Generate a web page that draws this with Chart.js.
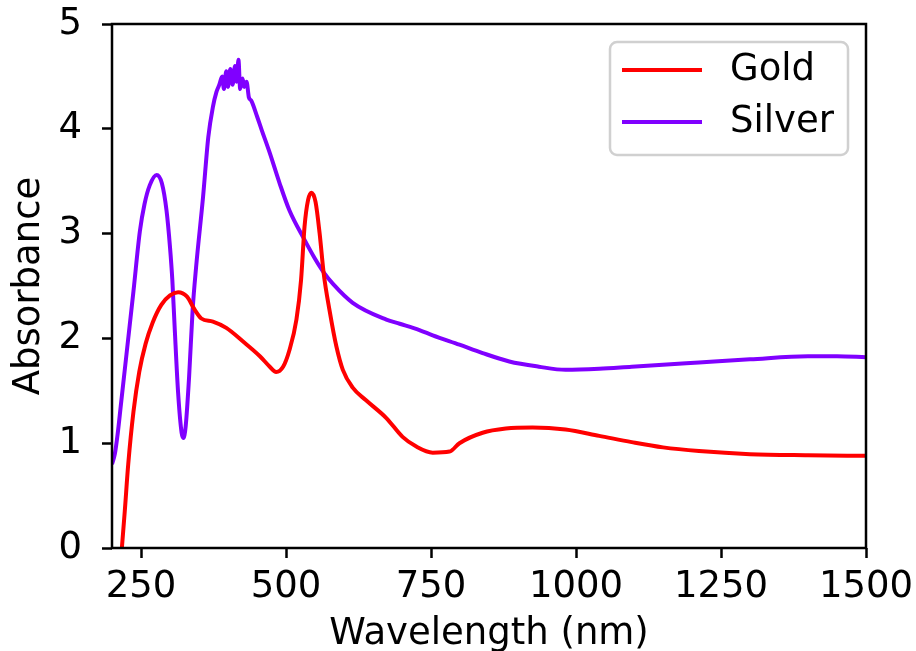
<!DOCTYPE html>
<html>
<head>
<meta charset="utf-8">
<script src="https://cdn.jsdelivr.net/npm/chart.js@4.4.1/dist/chart.umd.min.js"></script>
<style>
  body { margin: 0; background: #fff; }
  #wrap { width: 916px; height: 651px; }
</style>
</head>
<body>
<div id="wrap"><canvas id="grafico"></canvas></div>
<script>
// valores
const goldNm = [205, 217, 222, 228, 237, 247, 258, 270, 285, 300, 314, 329, 343, 354, 374, 397, 426, 455, 472, 483, 495, 506, 518, 526, 532, 538, 544, 551, 558, 565, 575, 587, 598, 615, 638, 673, 701, 724, 753, 782, 799, 839, 879, 925, 982, 1040, 1096, 1150, 1212, 1300, 1400, 1500];
const goldAbs = [-0.85, 0, 0.35, 0.80, 1.30, 1.68, 1.95, 2.15, 2.32, 2.41, 2.44, 2.40, 2.27, 2.19, 2.16, 2.10, 1.97, 1.83, 1.73, 1.68, 1.73, 1.89, 2.18, 2.56, 3.07, 3.32, 3.39, 3.30, 3.00, 2.62, 2.27, 1.92, 1.70, 1.53, 1.41, 1.24, 1.06, 0.97, 0.91, 0.92, 1.00, 1.10, 1.14, 1.15, 1.13, 1.07, 1.01, 0.96, 0.925, 0.895, 0.885, 0.88];

const silverNm = [200, 205, 210, 215, 225, 237, 248, 256, 265, 277, 286, 294, 300, 304, 308, 314, 320, 323, 327, 333, 339, 345, 357, 366, 374, 380, 385, 390, 393, 397, 400, 404, 408, 412, 415, 418, 421, 425, 428, 432, 436, 440, 450, 458, 472, 489, 506, 532, 550, 565, 581, 615, 673, 696, 730, 753, 799, 839, 885, 936, 982, 1040, 1096, 1212, 1300, 1400, 1450, 1500];
const silverAbs = [0.80, 0.90, 1.10, 1.35, 1.85, 2.45, 3.02, 3.28, 3.46, 3.56, 3.48, 3.22, 2.87, 2.56, 2.11, 1.48, 1.10, 1.05, 1.16, 1.64, 2.27, 2.68, 3.35, 3.92, 4.21, 4.35, 4.42, 4.50, 4.38, 4.55, 4.40, 4.57, 4.42, 4.60, 4.45, 4.66, 4.38, 4.48, 4.40, 4.45, 4.30, 4.27, 4.12, 3.99, 3.77, 3.48, 3.22, 2.94, 2.76, 2.63, 2.52, 2.34, 2.18, 2.14, 2.08, 2.03, 1.94, 1.86, 1.78, 1.73, 1.70, 1.71, 1.73, 1.77, 1.80, 1.83, 1.83, 1.82];

const xTicks = [250, 500, 750, 1000, 1250, 1500];
const yTicks = [0, 1, 2, 3, 4, 5];

const fonte = "'DejaVu Sans', sans-serif";
const tamanho = 37;

function pontos(xs, ys) {
  return xs.map((x, i) => ({ x: x, y: ys[i] }));
}

function semPadding(s) {
  s.paddingTop = 0;
  s.paddingBottom = 0;
  s.paddingLeft = 0;
  s.paddingRight = 0;
}

// moldura e legenda dentro da área do gráfico
const molduraLegenda = {
  id: "molduraLegenda",
  afterDraw(chart) {
    const { ctx, chartArea: a } = chart;
    ctx.save();
    ctx.strokeStyle = "#000";
    ctx.lineWidth = 2.5;
    ctx.strokeRect(a.left, a.top, a.right - a.left, a.bottom - a.top);

    const w = 238, h = 113;
    const bx = a.right - 18 - w, by = a.top + 18;
    ctx.beginPath();
    ctx.roundRect(bx, by, w, h, 7);
    ctx.fillStyle = "rgba(255,255,255,0.8)";
    ctx.fill();
    ctx.strokeStyle = "#d0d0d0";
    ctx.lineWidth = 2.5;
    ctx.stroke();

    chart.data.datasets.forEach((ds, i) => {
      const y = by + 28 + i * 52;
      ctx.beginPath();
      ctx.moveTo(bx + 12, y);
      ctx.lineTo(bx + 92, y);
      ctx.strokeStyle = ds.borderColor;
      ctx.lineWidth = 4;
      ctx.stroke();
      ctx.fillStyle = "#000";
      ctx.font = tamanho + "px " + fonte;
      ctx.textBaseline = "middle";
      ctx.textAlign = "left";
      ctx.fillText(ds.label, bx + 120, y);
    });
    ctx.restore();
  }
};

new Chart(document.getElementById("grafico"), {
  type: "line",
  data: {
    datasets: [
      { label: "Gold", data: pontos(goldNm, goldAbs), borderColor: "#ff0000", borderWidth: 4, pointRadius: 0, cubicInterpolationMode: "monotone", clip: 1 },
      { label: "Silver", data: pontos(silverNm, silverAbs), borderColor: "#8000ff", borderWidth: 4, pointRadius: 0, cubicInterpolationMode: "monotone", clip: 1 }
    ]
  },
  options: {
    responsive: true,
    maintainAspectRatio: false,
    animation: false,
    layout: { padding: { top: 24, right: 50, left: 0, bottom: 0 } },
    plugins: { legend: { display: false }, tooltip: { enabled: false } },
    scales: {
      x: {
        type: "linear",
        min: 200,
        max: 1500,
        afterBuildTicks: s => { s.ticks = xTicks.map(v => ({ value: v })); },
        afterFit: s => { s.height = 103; semPadding(s); },
        ticks: { color: "#000", font: { family: fonte, size: tamanho }, padding: 7, maxRotation: 0, callback: v => String(v) },
        grid: { drawOnChartArea: false, drawTicks: true, tickLength: 10, tickWidth: 2.5, tickColor: "#000" },
        border: { display: false },
        title: { display: true, text: "Wavelength (nm)", color: "#000", font: { family: fonte, size: tamanho, lineHeight: 0.9 }, padding: 0 }
      },
      y: {
        min: 0,
        max: 5,
        afterBuildTicks: s => { s.ticks = yTicks.map(v => ({ value: v })); },
        afterFit: s => { s.width = 112; semPadding(s); },
        ticks: { color: "#000", font: { family: fonte, size: tamanho }, padding: 20, callback: v => String(v) },
        grid: { drawOnChartArea: false, drawTicks: true, tickLength: 10, tickWidth: 2.5, tickColor: "#000" },
        border: { display: false },
        title: { display: true, text: "Absorbance", color: "#000", font: { family: fonte, size: tamanho, lineHeight: 1.2 }, padding: { top: 7, bottom: 0 } }
      }
    }
  },
  plugins: [molduraLegenda]
});
</script>
</body>
</html>
